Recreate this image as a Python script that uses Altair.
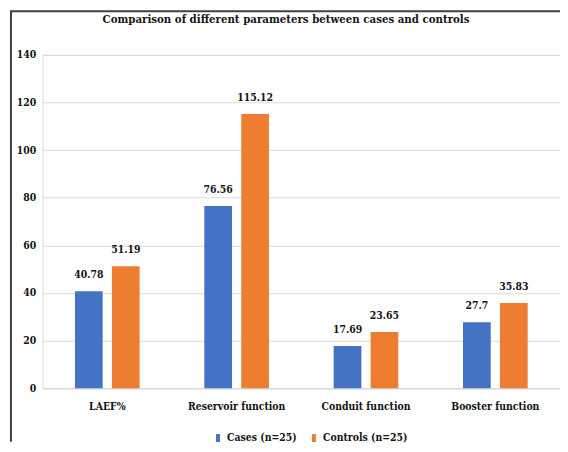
import altair as alt
import pandas as pd

categories = ["LAEF%", "Reservoir function", "Conduit function", "Booster function"]
series = ["Cases (n=25)", "Controls (n=25)"]
cases = [40.78, 76.56, 17.69, 27.7]
controls = [51.19, 115.12, 23.65, 35.83]
y_ticks = [0, 20, 40, 60, 80, 100, 120, 140]
colors = ["#4472C4", "#ED7D31"]
title_text = "Comparison of different parameters between cases and controls"

rows = []
for c, a, b in zip(categories, cases, controls):
    rows.append({"param": c, "group": series[0], "value": a})
    rows.append({"param": c, "group": series[1], "value": b})
df = pd.DataFrame(rows)

FONT = "DejaVu Serif Condensed, DejaVu Serif, Liberation Serif, serif"
FS = 10.5
TXT = "#141414"

x_enc = alt.X("param:N", sort=categories,
              scale=alt.Scale(paddingInner=0.5, paddingOuter=0.25),
              axis=alt.Axis(title=None, labelAngle=0, labelFont=FONT, labelFontSize=FS,
                            labelFontWeight="bold", labelColor=TXT, labelPadding=14,
                            ticks=False, tickSize=0, domainColor="#d9d9d9", domainWidth=1))
xo_enc = alt.XOffset("group:N", sort=series, scale=alt.Scale(paddingInner=0.25))
y_enc = alt.Y("value:Q", scale=alt.Scale(domain=[0, 140], nice=False),
              axis=alt.Axis(title=None, values=y_ticks, labelFont=FONT, labelFontSize=FS,
                            labelFontWeight="bold", labelColor=TXT, labelPadding=7,
                            ticks=False, tickSize=0, domain=False, gridColor="#d9d9d9",
                            gridWidth=1))

bars = alt.Chart(df).mark_bar().encode(
    x=x_enc,
    xOffset=xo_enc,
    y=y_enc,
    color=alt.Color("group:N", sort=series,
                    scale=alt.Scale(domain=series, range=colors),
                    legend=alt.Legend(title=None, orient="none", direction="horizontal",
                                      legendX=172, legendY=382, padding=0,
                                      symbolType="M-0.5,-1H0.5V1H-0.5Z", symbolSize=64,
                                      symbolStrokeWidth=0, labelFont=FONT, labelFontSize=FS,
                                      labelFontWeight="bold", labelColor=TXT,
                                      labelOffset=4, columnPadding=12)),
)

labels = alt.Chart(df).mark_text(font=FONT, fontSize=FS, fontWeight="bold",
                                 color=TXT, baseline="middle", dy=-16).encode(
    x=alt.X("param:N", sort=categories),
    xOffset=alt.XOffset("group:N", sort=series),
    y="value:Q",
    text=alt.Text("value:Q"),
)

frame_df = pd.DataFrame({"k": [0]})
left_border = alt.Chart(frame_df).mark_rule(color="#404040", strokeWidth=2).encode(
    x=alt.value(-32), y=alt.value(-44), y2=alt.value(391))
top_border = alt.Chart(frame_df).mark_rule(color="#404040", strokeWidth=2).encode(
    x=alt.value(-33), x2=alt.value(523), y=alt.value(-44))

title_df = pd.DataFrame({"t": [title_text]})
title = alt.Chart(title_df).mark_text(font=FONT, fontSize=11.5, fontWeight="bold",
                                      color=TXT, align="center",
                                      baseline="middle").encode(
    x=alt.value(246), y=alt.value(-35), text="t:N")

chart = alt.layer(bars, labels, left_border, top_border, title).properties(
    width=523, height=337,
    autosize=alt.AutoSizeParams(type="none"),
    padding={"left": 35, "top": 45, "right": 0, "bottom": 54},
).configure_view(stroke=None).configure(background="white")

chart.save("out.html", embed_options={"renderer": "svg", "actions": False})
